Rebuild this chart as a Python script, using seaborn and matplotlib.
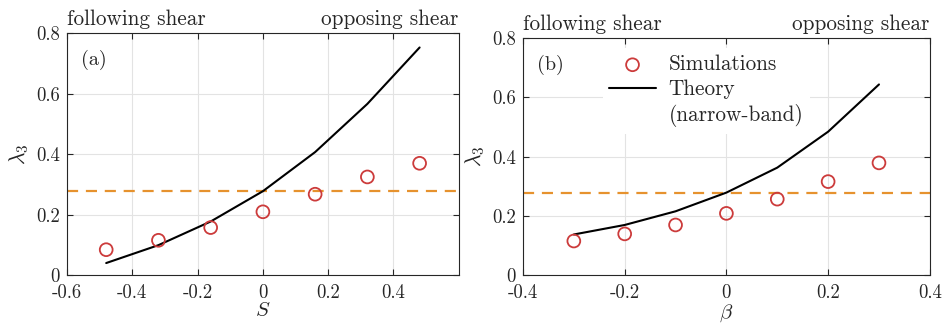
import matplotlib
matplotlib.use("Agg")
import matplotlib.pyplot as plt
from matplotlib.lines import Line2D
import seaborn as sns
import pandas as pd

# panel (a): vertical shear S
S_vals = [-0.48, -0.32, -0.16, 0.0, 0.16, 0.32, 0.48]
sim_a = [0.085, 0.116, 0.158, 0.210, 0.268, 0.325, 0.370]
theory_a = [0.041, 0.100, 0.178, 0.278, 0.407, 0.566, 0.752]
ref_a = 0.277

# panel (b): beta
beta_vals = [-0.3, -0.2, -0.1, 0.0, 0.1, 0.2, 0.3]
sim_b = [0.116, 0.140, 0.170, 0.209, 0.257, 0.316, 0.379]
theory_b = [0.138, 0.170, 0.216, 0.279, 0.363, 0.484, 0.643]
ref_b = 0.279

xticks_a = [-0.6, -0.4, -0.2, 0.0, 0.2, 0.4]
xticklabels_a = ["-0.6", "-0.4", "-0.2", "0", "0.2", "0.4"]
xticks_b = [-0.4, -0.2, 0.0, 0.2, 0.4]
xticklabels_b = ["-0.4", "-0.2", "0", "0.2", "0.4"]
yticks = [0.0, 0.2, 0.4, 0.6, 0.8]
yticklabels = ["0", "0.2", "0.4", "0.6", "0.8"]

RED = "#cc3b3b"
ORANGE = "#e6922e"

sns.set_theme(style="ticks")
plt.rcParams["font.family"] = ["cmr10", "DejaVu Serif"]
plt.rcParams["mathtext.fontset"] = "cm"
plt.rcParams["axes.unicode_minus"] = False
plt.rcParams["axes.formatter.use_mathtext"] = True

fig = plt.figure(figsize=(9.44, 3.26), dpi=100)
ax_a = fig.add_axes([0.071, 0.155, 0.415, 0.744])
ax_b = fig.add_axes([0.554, 0.155, 0.431, 0.729])


def draw_panel(ax, x, sim, theory, ref, xlim, xticks, xticklabels, xlabel, tag):
    df = pd.DataFrame({"x": x, "sim": sim, "theory": theory})
    ax.axhline(ref, color=ORANGE, lw=1.6, ls=(0, (5, 3.5)), zorder=2)
    sns.lineplot(data=df, x="x", y="theory", ax=ax, color="black", lw=1.5,
                 label="Theory", zorder=3)
    sns.scatterplot(data=df, x="x", y="sim", ax=ax, marker="o", s=85,
                    facecolor="none", edgecolor=RED, linewidth=1.3,
                    label="Simulations", zorder=4)
    ax.set_xlim(*xlim)
    ax.set_ylim(0, 0.8)
    ax.set_xticks(xticks)
    ax.set_xticklabels(xticklabels)
    ax.set_yticks(yticks)
    ax.set_yticklabels(yticklabels)
    ax.grid(True, color="#e3e3e3", lw=0.8, zorder=0)
    ax.set_axisbelow(True)
    ax.tick_params(direction="in", length=4, width=0.8, top=True, right=True,
                   labelsize=13.5, colors="#262626")
    ax.tick_params(axis="x", pad=6.5)
    ax.tick_params(axis="y", pad=5)
    for sp in ax.spines.values():
        sp.set_color("#262626")
        sp.set_linewidth(0.8)
    ax.set_xlabel(xlabel, fontsize=15, labelpad=0)
    ax.set_ylabel(r"$\lambda_3$", fontsize=15.5, labelpad=4)
    ax.text(0.035, 0.93, tag, transform=ax.transAxes, fontsize=14.5,
            ha="left", va="top")
    ax.text(0.0, 1.015, "following shear", transform=ax.transAxes,
            fontsize=15.3, ha="left", va="bottom")
    ax.text(1.0, 1.015, "opposing shear", transform=ax.transAxes,
            fontsize=15.3, ha="right", va="bottom")


draw_panel(ax_a, S_vals, sim_a, theory_a, ref_a, (-0.6, 0.6), xticks_a,
           xticklabels_a, r"$S$", "(a)")
draw_panel(ax_b, beta_vals, sim_b, theory_b, ref_b, (-0.4, 0.4), xticks_b,
           xticklabels_b, r"$\beta$", "(b)")

ax_a.get_legend().remove()
handles, labels = ax_b.get_legend_handles_labels()
h_sim = handles[labels.index("Simulations")]
h_th = handles[labels.index("Theory")]
blank = Line2D([], [], color="none")
leg = ax_b.legend([h_sim, h_th, blank],
                  ["Simulations", "Theory", "(narrow-band)"],
                  loc="upper left", bbox_to_anchor=(0.17, 1.0), fontsize=15.3,
                  frameon=True, fancybox=False, edgecolor="none",
                  facecolor="white", framealpha=1, handlelength=2.2,
                  handletextpad=0.6, labelspacing=0.25, borderpad=0.3)

fig.savefig("out.png", dpi=100)
